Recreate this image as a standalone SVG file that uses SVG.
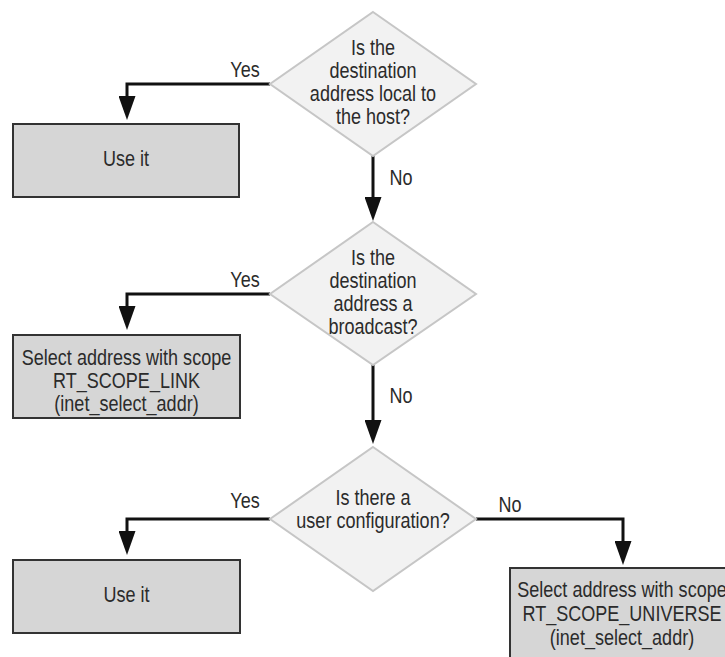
<svg xmlns="http://www.w3.org/2000/svg" width="725" height="657" viewBox="0 0 725 657">
<style>
.t{font-family:"Liberation Sans",Arial,sans-serif;font-size:22px;fill:#2b2b2b;text-anchor:middle}
.box{fill:#d6d6d6;stroke:#333;stroke-width:2}
.dia{fill:#f2f2f2;stroke:#c6c6c6;stroke-width:2}
.c{fill:none;stroke:#111;stroke-width:3;marker-end:url(#ah)}
</style>
<defs>
<marker id="ah" markerUnits="userSpaceOnUse" markerWidth="24" markerHeight="17" refX="14" refY="8.5" orient="auto" viewBox="0 0 24 17">
<path d="M0,0 L24,8.5 L0,17 z" fill="#111"/>
</marker>
</defs>
<rect width="725" height="657" fill="#fff"/>
<g id="connectors">
<path class="c" d="M270,84 H127 V110"/>
<path class="c" d="M373,156 V211"/>
<path class="c" d="M270,294 H127 V320"/>
<path class="c" d="M373,365 V434"/>
<path class="c" d="M270,519 H127 V545"/>
<path class="c" d="M476,519 H623 V555"/>
<text class="t" transform="matrix(0.82 0 0 1 245 77)">Yes</text>
<text class="t" transform="matrix(0.82 0 0 1 401 185)">No</text>
<text class="t" transform="matrix(0.82 0 0 1 245 287)">Yes</text>
<text class="t" transform="matrix(0.82 0 0 1 401 403)">No</text>
<text class="t" transform="matrix(0.82 0 0 1 245 508)">Yes</text>
<text class="t" transform="matrix(0.82 0 0 1 510 512)">No</text>
</g>
<g id="d1">
<polygon class="dia" points="373,12 476,84 373,156 270,84"/>
<text class="t" transform="matrix(0.82 0 0 1 373 55)">Is the</text>
<text class="t" transform="matrix(0.82 0 0 1 373 78)">destination</text>
<text class="t" transform="matrix(0.82 0 0 1 373 101)">address local to</text>
<text class="t" transform="matrix(0.82 0 0 1 373 124)">the host?</text>
</g>
<g id="b1">
<rect class="box" x="13" y="124" width="226" height="73"/>
<text class="t" transform="matrix(0.82 0 0 1 126 166)">Use it</text>
</g>
<g id="d2">
<polygon class="dia" points="373,222 476,294 373,365 270,294"/>
<text class="t" transform="matrix(0.82 0 0 1 373 265)">Is the</text>
<text class="t" transform="matrix(0.82 0 0 1 373 288)">destination</text>
<text class="t" transform="matrix(0.82 0 0 1 373 311)">address a</text>
<text class="t" transform="matrix(0.82 0 0 1 373 334)">broadcast?</text>
</g>
<g id="b2">
<rect class="box" x="13" y="335" width="227" height="83"/>
<text class="t" transform="matrix(0.82 0 0 1 126.5 365)">Select address with scope</text>
<text class="t" transform="matrix(0.82 0 0 1 126.5 388)">RT_SCOPE_LINK</text>
<text class="t" transform="matrix(0.82 0 0 1 126.5 411)">(inet_select_addr)</text>
</g>
<g id="d3">
<polygon class="dia" points="373,447 476,519 373,591 270,519"/>
<text class="t" transform="matrix(0.82 0 0 1 373 505)">Is there a</text>
<text class="t" transform="matrix(0.82 0 0 1 373 528)">user configuration?</text>
</g>
<g id="b3">
<rect class="box" x="13" y="560" width="227" height="73"/>
<text class="t" transform="matrix(0.82 0 0 1 126.5 602)">Use it</text>
</g>
<g id="b4">
<rect class="box" x="510" y="568" width="228" height="100"/>
<text class="t" transform="matrix(0.82 0 0 1 622 597)">Select address with scope</text>
<text class="t" transform="matrix(0.82 0 0 1 622 621)">RT_SCOPE_UNIVERSE</text>
<text class="t" transform="matrix(0.82 0 0 1 622 645)">(inet_select_addr)</text>
</g>
</svg>
